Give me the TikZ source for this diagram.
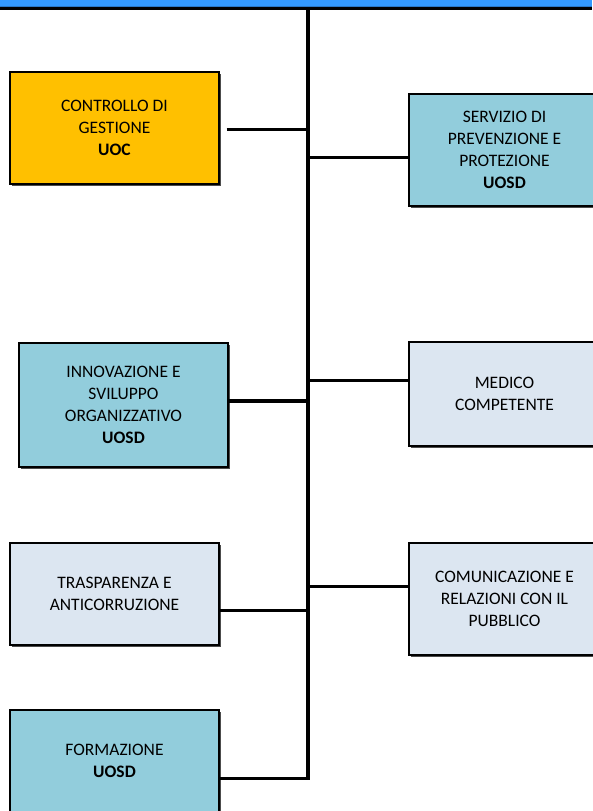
\documentclass[tikz,border=0pt]{standalone}
\usepackage{fontspec}
\setmainfont{Carlito}
\usetikzlibrary{shadows}
\definecolor{bandblue}{HTML}{3399FF}
\definecolor{banddark}{HTML}{2A78C8}
\definecolor{uocorange}{HTML}{FFC000}
\definecolor{uosdblue}{HTML}{92CDDC}
\definecolor{stafflight}{HTML}{DCE6F1}
\begin{document}
\begin{tikzpicture}[x=1pt,y=-1pt,
  unit/.style={draw=black, line width=1.1pt, align=center, inner sep=0pt,
    text=black, font=\fontsize{17.5}{22}\selectfont,
    drop shadow={shadow xshift=1.5pt, shadow yshift=-2pt, fill=black!70, opacity=1}},
  uoc/.style={unit, fill=uocorange},
  uosd/.style={unit, fill=uosdblue},
  staff/.style={unit, fill=stafflight},
  trunkline/.style={draw=black, line width=4.2pt},
  link/.style={draw=black, line width=3pt}]
\useasboundingbox (0,0) rectangle (592,811);

% header band
\fill[bandblue] (0,0) rectangle (592,5.5);
\fill[banddark] (0,5.5) rectangle (592,6.8);
\fill[black] (0,7.3) rectangle (592,10.3);

% units
\node[uoc, minimum width=209pt, minimum height=112pt] (ctrl) at (114.5,128)
  {CONTROLLO DI\\GESTIONE\\\textbf{UOC}};
\node[uosd, minimum width=191pt, minimum height=112pt] (serv) at (504.5,150)
  {SERVIZIO DI\\PREVENZIONE E\\PROTEZIONE\\\textbf{UOSD}};
\node[uosd, minimum width=209pt, minimum height=124pt] (innov) at (123.5,405)
  {INNOVAZIONE E\\SVILUPPO\\ORGANIZZATIVO\\\textbf{UOSD}};
\node[staff, minimum width=191pt, minimum height=104pt] (med) at (504.5,394)
  {MEDICO\\COMPETENTE};
\node[staff, minimum width=209pt, minimum height=102pt] (trasp) at (114.5,594)
  {TRASPARENZA E\\ANTICORRUZIONE};
\node[staff, minimum width=191pt, minimum height=112pt] (com) at (504.5,599)
  {COMUNICAZIONE E\\RELAZIONI CON IL\\PUBBLICO};
\node[uosd, minimum width=209pt, minimum height=102pt] (form) at (114.5,761)
  {FORMAZIONE\\\textbf{UOSD}};

% trunk and junctions
\coordinate (top) at (308,10);
\coordinate (j1) at (308,129);
\coordinate (j2) at (308,157);
\coordinate (j3) at (308,380);
\coordinate (j4) at (308,401);
\coordinate (j5) at (308,586);
\coordinate (j6) at (308,610);
\coordinate (j7) at (308,778);
\draw[trunkline] (top) -- ([yshift=-1.5pt]j7);

% connectors
\draw[link] ([xshift=7pt]ctrl.east |- j1) -- (j1);
\draw[link] (j2) -- (serv.west |- j2);
\draw[link] (j3) -- (med.west |- j3);
\draw[link, line width=4pt] (innov.east |- j4) -- (j4);
\draw[link] (j5) -- (com.west |- j5);
\draw[link] (trasp.east |- j6) -- (j6);
\draw[link] (form.east |- j7) -- ([xshift=2pt]j7);
\end{tikzpicture}
\end{document}
